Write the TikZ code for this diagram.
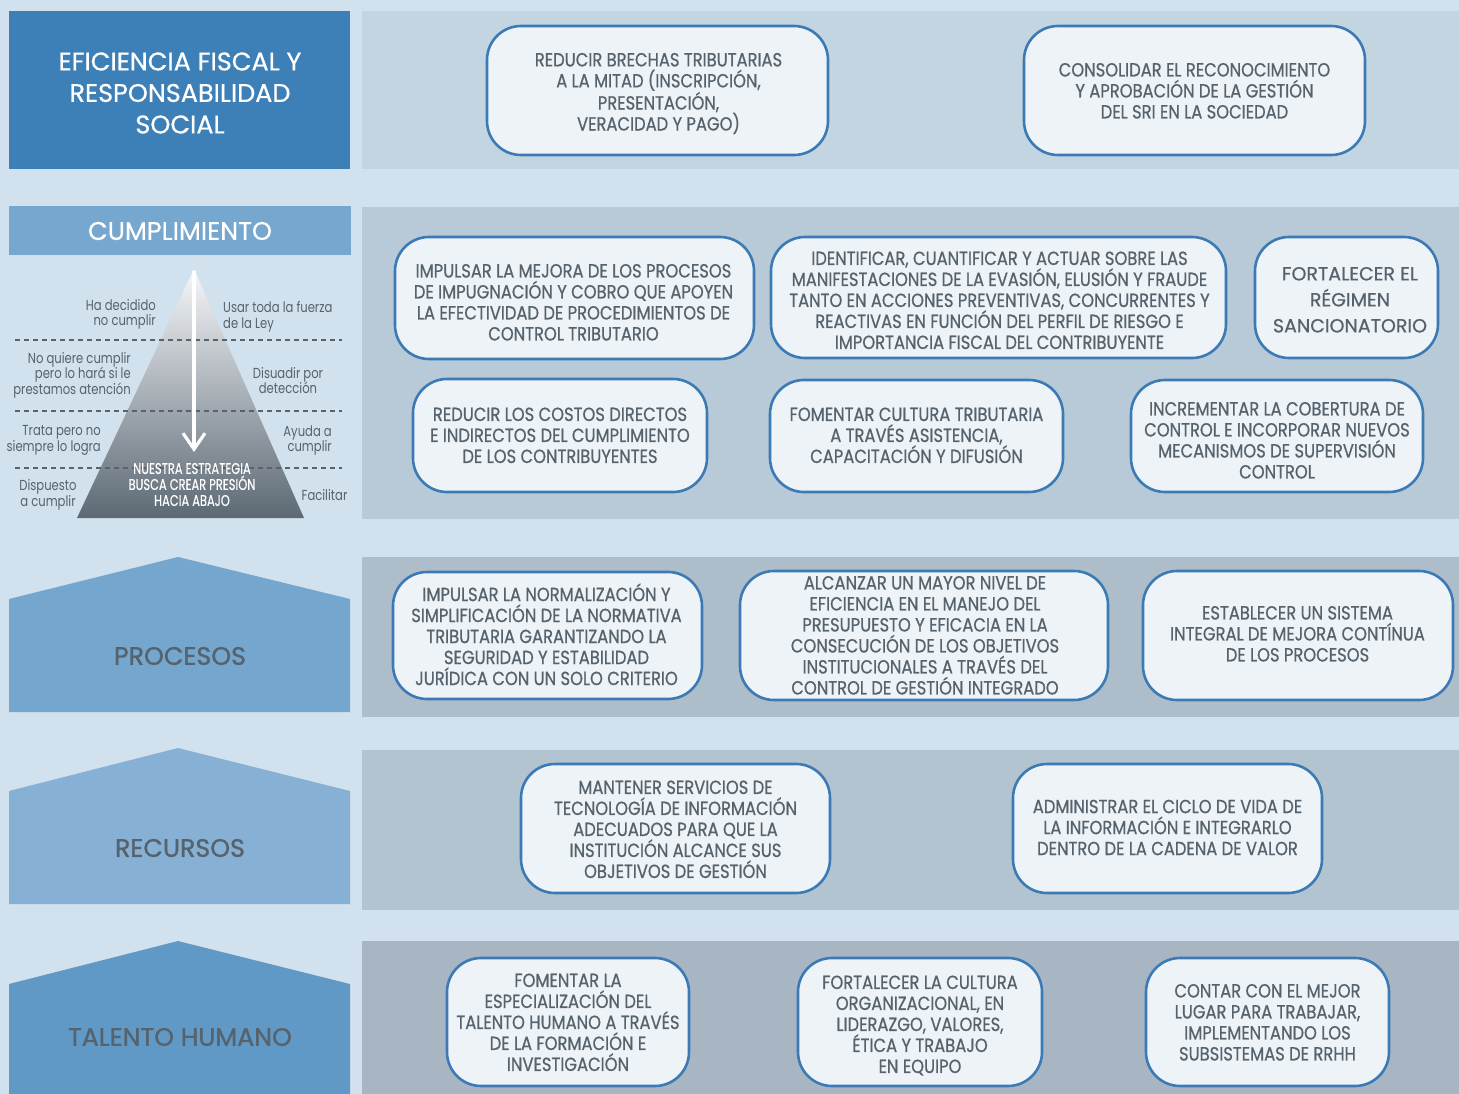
\documentclass[tikz,border=0pt]{standalone}
\usepackage{fontspec}
\setmainfont{Poppins}
\newfontfamily\hdfont[FakeBold=0.6]{Poppins}
\newfontfamily\boxfont[FakeStretch=0.86,FakeBold=0.7]{Poppins}
\newfontfamily\wideboxfont[FakeStretch=1.0,FakeBold=0.7]{Poppins}
\newfontfamily\pyrfont[FakeStretch=0.8]{Poppins}
\newfontfamily\pyrwfont[FakeStretch=0.74,FakeBold=0.4]{Poppins}
\newfontfamily\lblfont[FakeBold=1.2]{Poppins}
\usetikzlibrary{arrows.meta}
\definecolor{bgc}{HTML}{D1E1ED}
\definecolor{bandA}{HTML}{C4D5E2}
\definecolor{bandB}{HTML}{B8CAD7}
\definecolor{bandC}{HTML}{AEBDCA}
\definecolor{bandD}{HTML}{B2C4CF}
\definecolor{bandE}{HTML}{A8B6C3}
\definecolor{hdA}{HTML}{3D80B8}
\definecolor{hdB}{HTML}{75A7CF}
\definecolor{hdC}{HTML}{74A6CE}
\definecolor{hdD}{HTML}{87B1D4}
\definecolor{hdE}{HTML}{6099C6}
\definecolor{boxfill}{HTML}{EEF3F7}
\definecolor{boxline}{HTML}{3B7AB5}
\definecolor{txtgray}{HTML}{56636D}
\definecolor{pyrtop}{HTML}{F6F7F9}
\definecolor{pyrbot}{HTML}{5C6974}
\tikzset{
  obj/.style={draw=boxline, line width=2.6pt, fill=boxfill, rounded corners=34pt, inner sep=0pt},
  objtext/.style={text=txtgray, align=center, inner sep=0pt,
    font=\boxfont\fontsize{19}{21}\selectfont,
    execute at begin node=\strut, execute at end node=\strut},
  hdtext/.style={text=white, align=center, font=\hdfont\fontsize{25.5}{31.5}\selectfont},
  lbltext/.style={text=txtgray, align=center, font=\lblfont\fontsize{25.3}{30}\selectfont},
  pyrtext/.style={text=txtgray, inner sep=0pt, font=\pyrfont\fontsize{14.5}{15.5}\selectfont},
  pyrwhite/.style={text=white, align=center, inner sep=0pt, font=\pyrwfont\fontsize{15.5}{16}\selectfont},
  dashline/.style={draw=txtgray, line width=1.8pt, dash pattern=on 5pt off 4pt}
}
\begin{document}
\begin{tikzpicture}[x=1pt,y=-1pt]
\useasboundingbox (0,0) rectangle (1459,1094);
\fill[bgc] (0,0) rectangle (1459,1094);
% bands
\fill[bandA] (362,11) rectangle (1459,169);
\fill[bandB] (362,207) rectangle (1459,519);
\fill[bandC] (362,557) rectangle (1459,717);
\fill[bandD] (362,750) rectangle (1459,910);
\fill[bandE] (362,941) rectangle (1459,1094);
% left headers
\fill[hdA] (9,11) rectangle (350,169);
\node[hdtext] (h1) at (180,93) {EFICIENCIA FISCAL Y\\RESPONSABILIDAD\\SOCIAL};
\fill[hdB] (9,206) rectangle (351,255);
\node[hdtext] (h2) at (180,231) {CUMPLIMIENTO};
\fill[hdC] (9,599) -- (178,557) -- (350,599) -- (350,712) -- (9,712) -- cycle;
\node[lbltext] (h3) at (180,656) {PROCESOS};
\fill[hdD] (9,791) -- (178,748) -- (350,791) -- (350,904) -- (9,904) -- cycle;
\node[lbltext] (h4) at (180,848) {RECURSOS};
\fill[hdE] (9,984) -- (178,941) -- (350,984) -- (350,1094) -- (9,1094) -- cycle;
\node[lbltext] (h5) at (180,1037) {TALENTO HUMANO};
% pyramid
\shade[top color=pyrtop, bottom color=pyrbot] (194,269) -- (304,518) -- (77,518) -- cycle;
\draw[dashline] (15,340) -- (342,340);
\draw[dashline] (15,411) -- (342,411);
\draw[dashline] (15,468) -- (342,468);
\coordinate (apex) at (194,271);
\coordinate (tip) at (194,452);
\draw[white, line width=3.2pt, -{Straight Barb[length=16pt,width=22pt]}] (apex) -- (tip);
\node[pyrtext, align=right, anchor=east] (t1) at (156,314.5) {Ha decidido\\no cumplir};
\node[pyrtext, align=left, anchor=west] (t2) at (223,317) {Usar toda la fuerza\\de la Ley};
\node[pyrtext, align=right, anchor=east] (t3) at (131,375) {No quiere cumplir\\pero lo hará si le\\prestamos atención};
\node[pyrtext, align=center] (t4) at (288,380.5) {Disuadir por\\detección};
\node[pyrtext, align=right, anchor=east] (t5) at (101,440.5) {Trata pero no\\siempre lo logra};
\node[pyrtext, align=right, anchor=east] (t6) at (332,440.5) {Ayuda a\\cumplir};
\node[pyrtext, align=center] (t7) at (48,495) {Dispuesto\\a cumplir};
\node[pyrtext, align=center] (t8) at (324.5,495) {Facilitar};
\node[pyrwhite] (t9) at (192,484.5) {NUESTRA ESTRATEGIA\\BUSCA CREAR PRESIÓN\\HACIA ABAJO};
% row 1
\node[obj, minimum width=341, minimum height=129] (b1) at (657.5,90.5) {};
\node[objtext] (b1t) at (658.5,94.9) {REDUCIR BRECHAS TRIBUTARIAS\\A LA MITAD (INSCRIPCIÓN,\\PRESENTACIÓN,\\VERACIDAD Y PAGO)};
\node[obj, minimum width=341, minimum height=129] (b2) at (1194.5,90.5) {};
\node[objtext] (b2t) at (1194.5,93.9) {CONSOLIDAR EL RECONOCIMIENTO\\Y APROBACIÓN DE LA GESTIÓN\\DEL SRI EN LA SOCIEDAD};
% row 2
\node[obj, minimum width=359, minimum height=122] (c1) at (574.5,298) {};
\node[objtext] (c1t) at (573.5,305.4) {IMPULSAR LA MEJORA DE LOS PROCESOS\\DE IMPUGNACIÓN Y COBRO QUE APOYEN\\LA EFECTIVIDAD DE PROCEDIMIENTOS DE\\CONTROL TRIBUTARIO};
\node[obj, minimum width=455, minimum height=121] (c2) at (998.5,297.5) {};
\node[objtext] (c2t) at (999.5,303.4) {IDENTIFICAR, CUANTIFICAR Y ACTUAR SOBRE LAS\\MANIFESTACIONES DE LA EVASIÓN, ELUSIÓN Y FRAUDE\\TANTO EN ACCIONES PREVENTIVAS, CONCURRENTES Y\\REACTIVAS EN FUNCIÓN DEL PERFIL DE RIESGO E\\IMPORTANCIA FISCAL DEL CONTRIBUYENTE};
\node[obj, minimum width=183, minimum height=121] (c3) at (1346.5,297.5) {};
\node[objtext, font=\wideboxfont\fontsize{19}{26}\selectfont] (c3t) at (1350,303.6) {FORTALECER EL\\RÉGIMEN\\SANCIONATORIO};
\node[obj, minimum width=294, minimum height=113] (c4) at (560,435.5) {};
\node[objtext] (c4t) at (560,438.4) {REDUCIR LOS COSTOS DIRECTOS\\E INDIRECTOS DEL CUMPLIMIENTO\\DE LOS CONTRIBUYENTES};
\node[obj, minimum width=293, minimum height=112] (c5) at (916.5,436) {};
\node[objtext] (c5t) at (916.5,438.4) {FOMENTAR CULTURA TRIBUTARIA\\A TRAVÉS ASISTENCIA,\\CAPACITACIÓN Y DIFUSIÓN};
\node[obj, minimum width=292, minimum height=112] (c6) at (1277,436) {};
\node[objtext] (c6t) at (1277,443.4) {INCREMENTAR LA COBERTURA DE\\CONTROL E INCORPORAR NUEVOS\\MECANISMOS DE SUPERVISIÓN\\CONTROL};
% row 3
\node[obj, minimum width=309, minimum height=127] (d1) at (547.5,635.5) {};
\node[objtext] (d1t) at (546.5,637.4) {IMPULSAR LA NORMALIZACIÓN Y\\SIMPLIFICACIÓN DE LA NORMATIVA\\TRIBUTARIA GARANTIZANDO LA\\SEGURIDAD Y ESTABILIDAD\\JURÍDICA CON UN SOLO CRITERIO};
\node[obj, minimum width=368, minimum height=129] (d2) at (924,635.5) {};
\node[objtext] (d2t) at (925,638.4) {ALCANZAR UN MAYOR NIVEL DE\\EFICIENCIA EN EL MANEJO DEL\\PRESUPUESTO Y EFICACIA EN LA\\CONSECUCIÓN DE LOS OBJETIVOS\\INSTITUCIONALES A TRAVÉS DEL\\CONTROL DE GESTIÓN INTEGRADO};
\node[obj, minimum width=310, minimum height=129] (d3) at (1298,635.5) {};
\node[objtext] (d3t) at (1297.5,636.9) {ESTABLECER UN SISTEMA\\INTEGRAL DE MEJORA CONTÍNUA\\DE LOS PROCESOS};
% row 4
\node[obj, minimum width=309, minimum height=129] (e1) at (675.5,828.5) {};
\node[objtext] (e1t) at (675.5,832.4) {MANTENER SERVICIOS DE\\TECNOLOGÍA DE INFORMACIÓN\\ADECUADOS PARA QUE LA\\INSTITUCIÓN ALCANCE SUS\\OBJETIVOS DE GESTIÓN};
\node[obj, minimum width=309, minimum height=129] (e2) at (1167.5,828.5) {};
\node[objtext] (e2t) at (1167.5,830.6) {ADMINISTRAR EL CICLO DE VIDA DE\\LA INFORMACIÓN E INTEGRARLO\\DENTRO DE LA CADENA DE VALOR};
% row 5
\node[obj, minimum width=242, minimum height=128] (f1) at (568,1022) {};
\node[objtext] (f1t) at (568,1025.4) {FOMENTAR LA\\ESPECIALIZACIÓN DEL\\TALENTO HUMANO A TRAVÉS\\DE LA FORMACIÓN E\\INVESTIGACIÓN};
\node[obj, minimum width=244, minimum height=128] (f2) at (920,1022) {};
\node[objtext] (f2t) at (920,1027.4) {FORTALECER LA CULTURA\\ORGANIZACIONAL, EN\\LIDERAZGO, VALORES,\\ÉTICA Y TRABAJO\\EN EQUIPO};
\node[obj, minimum width=243, minimum height=128] (f3) at (1267.5,1022) {};
\node[objtext] (f3t) at (1267.5,1025.4) {CONTAR CON EL MEJOR\\LUGAR PARA TRABAJAR,\\IMPLEMENTANDO LOS\\SUBSISTEMAS DE RRHH};
\end{tikzpicture}
\end{document}
